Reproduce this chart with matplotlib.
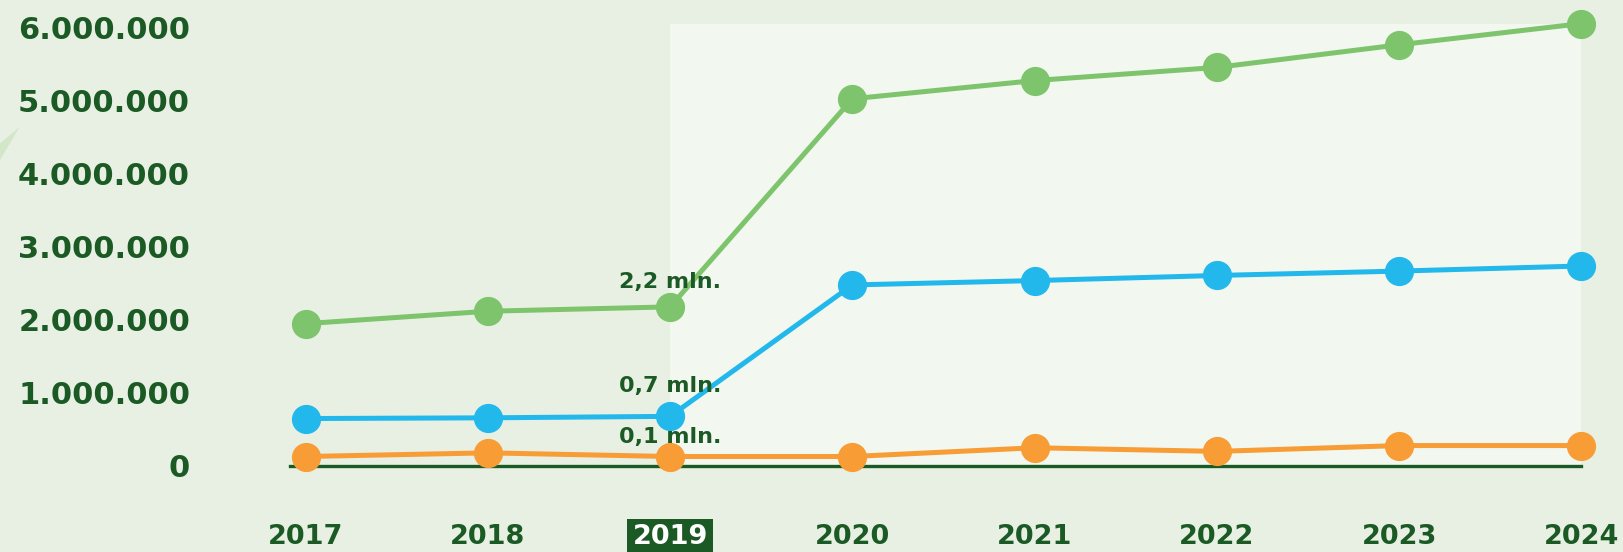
import matplotlib
matplotlib.use("Agg")
import matplotlib.pyplot as plt
from matplotlib.patches import Rectangle, Polygon

# values (people, millions scaled to units)
years = [2017, 2018, 2019, 2020, 2021, 2022, 2023, 2024]
green_vals = [1.95e6, 2.12e6, 2.18e6, 5.03e6, 5.28e6, 5.46e6, 5.77e6, 6.06e6]
blue_vals = [0.65e6, 0.66e6, 0.68e6, 2.48e6, 2.54e6, 2.61e6, 2.67e6, 2.74e6]
orange_vals = [0.13e6, 0.18e6, 0.13e6, 0.13e6, 0.25e6, 0.20e6, 0.28e6, 0.28e6]

yticks = [0, 1e6, 2e6, 3e6, 4e6, 5e6, 6e6]
ytick_labels = ["0", "1.000.000", "2.000.000", "3.000.000", "4.000.000",
                "5.000.000", "6.000.000"]

highlight_year = 2019
annotations = [("2,2 mln.", green_vals[2], 18),
               ("0,7 mln.", blue_vals[2], 22),
               ("0,1 mln.", orange_vals[2], 14)]

BG = "#e8f0e3"
PANEL = "#f2f7ef"
DARK = "#1b5a24"
GREEN = "#7dc46c"
BLUE = "#22b8ec"
ORANGE = "#f89c36"

plt.rcParams["font.family"] = ["DejaVu Sans"]

fig = plt.figure(figsize=(16.24, 5.52), dpi=100, facecolor=BG)
ax = fig.add_axes([0.1786, 0.1558, 0.7952, 0.7935])
ax.set_facecolor(BG)

# faint leaf shape at the left edge
fig.patches.append(Polygon([(0.0, 0.71), (0.012, 0.77), (0.0, 0.74)],
                           closed=True, transform=fig.transFigure,
                           facecolor="#d3e6c8", edgecolor="none"))

# lighter panel behind 2019-2024
ax.add_patch(Rectangle((2019, 0), 5, 6.05e6, facecolor=PANEL,
                       edgecolor="none", clip_on=False, zorder=0))

ax.axhline(0, color=DARK, linewidth=2.4, zorder=2, clip_on=False)

for vals, col in [(green_vals, GREEN), (blue_vals, BLUE), (orange_vals, ORANGE)]:
    ax.plot(years, vals, color=col, linewidth=3.6, marker="o",
            markersize=20, clip_on=False, zorder=3)

for text, val, off in annotations:
    ax.annotate(text, (highlight_year, val), xytext=(0, off),
                textcoords="offset points", ha="center", va="center",
                fontsize=16, fontweight="bold", color=DARK, zorder=4)

ax.set_xlim(2017 - 0.085, 2024)
ax.set_ylim(0, 6e6)
ax.set_yticks(yticks)
ax.set_yticklabels(ytick_labels)
ax.set_xticks(years)
ax.set_xticklabels([str(y) for y in years])

ax.tick_params(axis="y", length=0, pad=72, labelsize=22, labelcolor=DARK)
ax.tick_params(axis="x", length=0, pad=42, labelsize=19.5, labelcolor=DARK)
for lab in ax.get_yticklabels() + ax.get_xticklabels():
    lab.set_fontweight("bold")

for lab in ax.get_xticklabels():
    if lab.get_text() == str(highlight_year):
        lab.set_color("white")
        lab.set_bbox(dict(facecolor=DARK, edgecolor="none", pad=4))

for s in ax.spines.values():
    s.set_visible(False)

fig.savefig("out.png", dpi=100, facecolor=BG)
